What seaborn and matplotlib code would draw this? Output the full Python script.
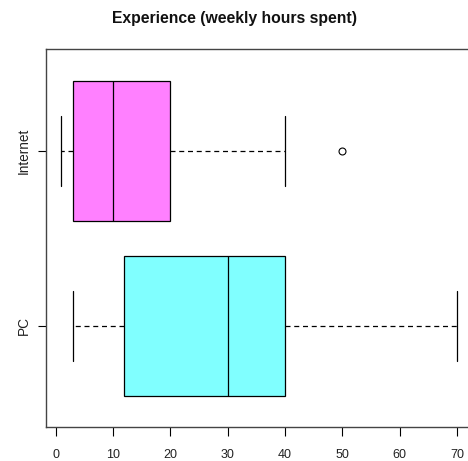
import matplotlib
matplotlib.use("Agg")
import matplotlib.pyplot as plt
import seaborn as sns
import pandas as pd

# Weekly hours spent, per activity
internet_hours = [1, 3, 3, 10, 10, 20, 20, 40, 50]
pc_hours = [3, 12, 30, 40, 70]
groups = ["Internet", "PC"]
box_colors = ["#FF80FF", "#80FFFF"]
x_ticks = [0, 10, 20, 30, 40, 50, 60, 70]
title = "Experience (weekly hours spent)"

df = pd.DataFrame({
    "hours": internet_hours + pc_hours,
    "group": ["Internet"] * len(internet_hours) + ["PC"] * len(pc_hours),
})

sns.set_style("white")
plt.rcParams["font.family"] = ["Liberation Sans", "DejaVu Sans"]

fig = plt.figure(figsize=(4.68, 4.61), dpi=100)
ax = fig.add_axes([0.0974, 0.0727, 0.9128, 0.82])

sns.boxplot(
    data=df, x="hours", y="group", order=groups, hue="group",
    hue_order=groups, palette=box_colors, saturation=1, legend=False,
    orient="h", width=0.8, whis=1.5, linecolor="black", linewidth=0.9,
    ax=ax,
    whiskerprops=dict(linestyle=(0, (4, 3))),
    capprops=dict(linestyle="-"),
    medianprops=dict(color="black", linewidth=0.9),
    flierprops=dict(marker="o", markersize=5, markerfacecolor="white",
                    markeredgecolor="black", markeredgewidth=0.8),
)

ax.set_xlim(-1.76, 72.76)
ax.set_ylim(1.58, -0.58)
ax.set_xticks(x_ticks)
ax.set_xticklabels([str(t) for t in x_ticks])
ax.set_xlabel("")
ax.set_ylabel("")
ax.tick_params(axis="x", direction="out", length=6.5, width=0.8,
               color="black", labelsize=9, labelcolor="#222222", pad=9,
               bottom=True)
ax.tick_params(axis="y", direction="out", length=5.5, width=0.8,
               color="black", labelsize=9.8, labelcolor="#222222", pad=5,
               left=True)
for lbl in ax.get_yticklabels():
    lbl.set_rotation(90)
    lbl.set_va("center")
for side, sp in ax.spines.items():
    sp.set_color("#444444")
    sp.set_linewidth(1.0)
ax.spines["right"].set_visible(False)

fig.text(0.5, 0.96, title, ha="center", va="center", fontsize=11.3,
         fontweight="bold", color="#111111")

fig.savefig("out.png", dpi=100)
